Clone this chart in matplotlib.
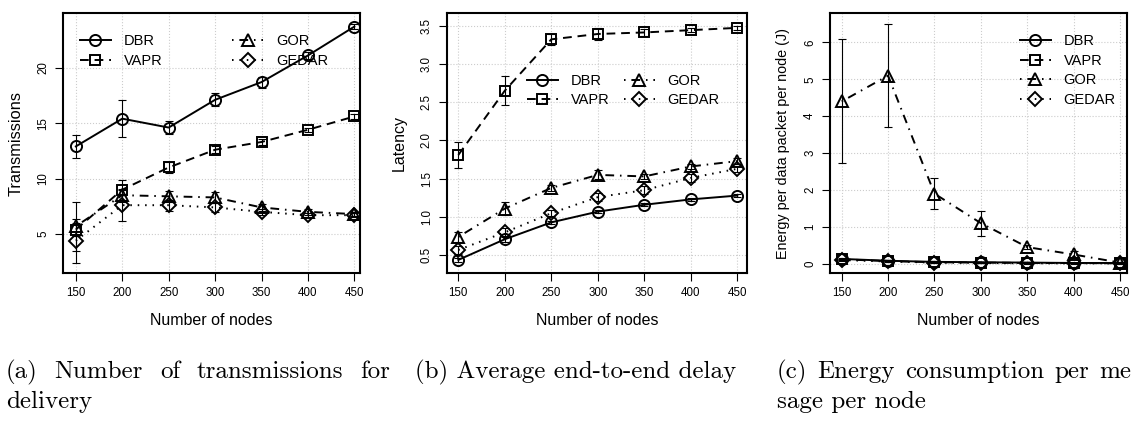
import matplotlib
matplotlib.use("Agg")
import matplotlib.pyplot as plt

# ── Data ──────────────────────────────────────────────────────────────────────
NODES = [150, 200, 250, 300, 350, 400, 450]
PROTOCOLS = ["DBR", "VAPR", "GOR", "GEDAR"]

# (a) transmissions
TX_DBR = [12.9, 15.4, 14.6, 17.1, 18.7, 21.1, 23.7]
TX_VAPR = [5.4, 9.0, 11.0, 12.6, 13.3, 14.4, 15.6]
TX_GOR = [5.7, 8.5, 8.4, 8.3, 7.4, 7.0, 6.8]
TX_GEDAR = [4.4, 7.6, 7.6, 7.4, 7.0, 6.7, 6.7]
TX_DBR_ERR = [1.05, 1.65, 0.6, 0.6, 0.5, 0.3, 0.2]
TX_VAPR_ERR = [0.6, 0.9, 0.5, 0.3, 0.3, 0.2, 0.2]
TX_GOR_ERR = [2.2, 0.6, 0.5, 0.5, 0.3, 0.3, 0.2]
TX_GEDAR_ERR = [2.0, 1.4, 0.5, 0.4, 0.3, 0.2, 0.2]

# (b) latency
LAT_DBR = [0.44, 0.71, 0.93, 1.07, 1.16, 1.23, 1.28]
LAT_VAPR = [1.81, 2.65, 3.32, 3.39, 3.41, 3.44, 3.47]
LAT_GOR = [0.74, 1.11, 1.38, 1.55, 1.53, 1.66, 1.73]
LAT_GEDAR = [0.57, 0.80, 1.05, 1.26, 1.35, 1.51, 1.63]
LAT_DBR_ERR = [0.03, 0.03, 0.02, 0.02, 0.02, 0.02, 0.02]
LAT_VAPR_ERR = [0.17, 0.19, 0.07, 0.08, 0.04, 0.03, 0.03]
LAT_GOR_ERR = [0.07, 0.08, 0.04, 0.06, 0.03, 0.03, 0.04]
LAT_GEDAR_ERR = [0.05, 0.05, 0.04, 0.05, 0.05, 0.05, 0.04]

# (c) energy
EN_DBR = [0.13, 0.08, 0.05, 0.04, 0.03, 0.02, 0.02]
EN_VAPR = [0.12, 0.07, 0.04, 0.03, 0.02, 0.02, 0.01]
EN_GOR = [4.4, 5.1, 1.9, 1.1, 0.45, 0.25, 0.03]
EN_GEDAR = [0.10, 0.06, 0.03, 0.02, 0.01, 0.01, 0.01]
EN_DBR_ERR = [0.02, 0.02, 0.01, 0.01, 0.01, 0.01, 0.01]
EN_VAPR_ERR = [0.02, 0.02, 0.01, 0.01, 0.01, 0.01, 0.01]
EN_GOR_ERR = [1.68, 1.4, 0.43, 0.34, 0.06, 0.1, 0.02]
EN_GEDAR_ERR = [0.02, 0.01, 0.01, 0.01, 0.01, 0.01, 0.01]

# ── Styles ────────────────────────────────────────────────────────────────────
STYLE = {
    "DBR":   dict(marker="o", ls="-"),
    "VAPR":  dict(marker="s", ls=(0, (4.5, 3))),
    "GOR":   dict(marker="^", ls=(0, (0.8, 3, 4.5, 3))),
    "GEDAR": dict(marker="D", ls=(0, (0.8, 3))),
}
MSIZE = {"o": 8, "s": 7, "^": 9, "D": 7.5}

plt.rcParams["font.family"] = ["Liberation Sans", "DejaVu Sans"]

fig = plt.figure(figsize=(11.32, 4.21), dpi=100)
W, H = 1132, 421


def make_ax(left, right, top=13.3, bottom=273.3):
    return fig.add_axes([left / W, 1 - bottom / H, (right - left) / W, (bottom - top) / H])


def draw(ax, series, errs, xlim, ylim, yticks, ylabel, ylsize):
    for name in PROTOCOLS:
        st = STYLE[name]
        ax.errorbar(NODES, series[name], yerr=errs[name], color="black",
                    ecolor="black", elinewidth=0.8, capsize=3, capthick=0.8,
                    zorder=2, fmt="none")
        ax.plot(NODES, series[name], color="black", lw=1.4, ls=st["ls"],
                marker=st["marker"], ms=MSIZE[st["marker"]], mfc="none",
                mec="black", mew=1.4, label=name, zorder=3)
    ax.set_xlim(*xlim)
    ax.set_ylim(*ylim)
    ax.set_xticks(NODES)
    ax.set_yticks(yticks)
    ax.grid(True, color="#cccccc", ls=":", lw=0.8)
    ax.set_axisbelow(True)
    for sp in ax.spines.values():
        sp.set_linewidth(1.5)
    ax.tick_params(direction="out", length=6, width=0.8, labelsize=8.3,
                   colors="black", pad=4)
    for lbl in ax.get_yticklabels():
        lbl.set_rotation(90)
        lbl.set_va("center")
    ax.set_xlabel("Number of nodes", fontsize=11.5, labelpad=10)
    ax.set_ylabel(ylabel, fontsize=ylsize)
    ax.yaxis.set_label_coords(-40 / (ax.get_position().width * W), 0.5)


leg_kw = dict(frameon=False, fontsize=10.5, handlelength=2.1, handletextpad=0.9,
              labelspacing=0.38, borderpad=0, borderaxespad=0, numpoints=1,
              loc="upper left")

# (a)
ax1 = make_ax(63.3, 360)
draw(ax1,
     dict(DBR=TX_DBR, VAPR=TX_VAPR, GOR=TX_GOR, GEDAR=TX_GEDAR),
     dict(DBR=TX_DBR_ERR, VAPR=TX_VAPR_ERR, GOR=TX_GOR_ERR, GEDAR=TX_GEDAR_ERR),
     (136.5, 456.1), (1.46, 24.9), [5, 10, 15, 20], "Transmissions", 11.8)
ax1.legend(ncol=2, columnspacing=4.8, bbox_to_anchor=(0.056, 0.92), **leg_kw)

# (b)
ax2 = make_ax(446.7, 747)
draw(ax2,
     dict(DBR=LAT_DBR, VAPR=LAT_VAPR, GOR=LAT_GOR, GEDAR=LAT_GEDAR),
     dict(DBR=LAT_DBR_ERR, VAPR=LAT_VAPR_ERR, GOR=LAT_GOR_ERR, GEDAR=LAT_GEDAR_ERR),
     (137.5, 460.4), (0.265, 3.66), [0.5, 1.0, 1.5, 2.0, 2.5, 3.0, 3.5],
     "Latency", 11.5)
ax2.legend(ncol=2, columnspacing=1.0, bbox_to_anchor=(0.267, 0.767), **leg_kw)

# (c)
ax3 = make_ax(830, 1126.7)
draw(ax3,
     dict(DBR=EN_DBR, VAPR=EN_VAPR, GOR=EN_GOR, GEDAR=EN_GEDAR),
     dict(DBR=EN_DBR_ERR, VAPR=EN_VAPR_ERR, GOR=EN_GOR_ERR, GEDAR=EN_GEDAR_ERR),
     (137.4, 457.2), (-0.26, 6.79), [0, 1, 2, 3, 4, 5, 6],
     "Energy per data packet per node (J)", 10.4)
ax3.legend(ncol=1, bbox_to_anchor=(0.64, 0.92), **leg_kw)

# ── Captions (LaTeX-like, justified lines) ────────────────────────────────────
cap_kw = dict(family="cmr10", fontsize=18, ha="left", va="baseline")
renderer = fig.canvas.get_renderer()


def caption_line(text, x0, y, x1=None):
    if x1 is None:
        fig.text(x0 / W, 1 - y / H, text, **cap_kw)
        return
    words = text.split(" ")
    objs = [fig.text(0, 1 - y / H, w, **cap_kw) for w in words]
    widths = [o.get_window_extent(renderer).width for o in objs]
    gap = (x1 - x0 - sum(widths)) / (len(words) - 1)
    x = x0
    for o, w in zip(objs, widths):
        o.set_x(x / W)
        x += w + gap


caption_line("(a) Number of transmissions for", 6, 378, 390)
caption_line("delivery", 6, 408)
caption_line("(b) Average end-to-end delay", 415, 378)
caption_line("(c) Energy consumption per me", 777, 378, 1131)
caption_line("sage per node", 777, 408)

fig.savefig("out.png", dpi=100, facecolor="white")
